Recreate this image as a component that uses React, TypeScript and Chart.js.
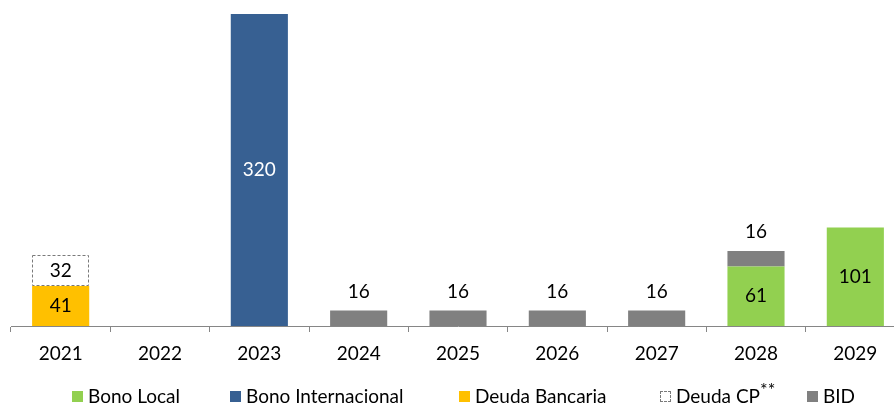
import React, { useEffect, useRef } from "react";
import { Chart, registerables } from "chart.js";

Chart.register(...registerables);

const categories = ["2021", "2022", "2023", "2024", "2025", "2026", "2027", "2028", "2029"];
const bonoLocal = [null, null, null, null, null, null, null, 61, 101];
const bonoInternacional = [null, null, 320, null, null, null, null, null, null];
const deudaBancaria = [41, null, null, null, null, null, null, null, null];
const deudaCP = [32, null, null, null, null, null, null, null, null];
const bid = [null, null, null, 16, 16, 16, 16, 16, null];
const seriesNames = ["Bono Local", "Bono Internacional", "Deuda Bancaria", "Deuda CP", "BID"];
const yMin = 0;
const yMax = 320;

const FONT = "Lato, 'Open Sans', sans-serif";
const GREEN = "#92D050";
const BLUE = "#376092";
const YELLOW = "#FFC000";
const GRAY = "#808080";
const AXIS = "#868686";

const dashedBoxes = {
  id: "dashedBoxes",
  afterDatasetsDraw(chart: any) {
    const ctx = chart.ctx;
    chart.data.datasets.forEach((ds: any, di: number) => {
      if (!ds.dashed) return;
      const meta = chart.getDatasetMeta(di);
      meta.data.forEach((el: any, i: number) => {
        if (ds.data[i] == null) return;
        const p = el.getProps(["x", "y", "base", "width"], true);
        const left = Math.round(p.x - p.width / 2) + 0.5;
        const right = Math.round(p.x + p.width / 2) - 0.5;
        const top = Math.round(p.y) + 0.5;
        const bottom = Math.round(p.base) - 0.5;
        ctx.save();
        ctx.strokeStyle = ds.dashColor;
        ctx.lineWidth = 1;
        ctx.setLineDash([3, 2]);
        ctx.strokeRect(left, top, right - left, bottom - top);
        ctx.restore();
      });
    });
  },
};

const valueLabels = {
  id: "valueLabels",
  afterDatasetsDraw(chart: any) {
    const ctx = chart.ctx;
    ctx.save();
    ctx.font = `19px ${FONT}`;
    ctx.textAlign = "center";
    ctx.textBaseline = "middle";
    chart.data.datasets.forEach((ds: any, di: number) => {
      const meta = chart.getDatasetMeta(di);
      meta.data.forEach((el: any, i: number) => {
        const v = ds.data[i];
        if (v == null) return;
        const p = el.getProps(["x", "y", "base"], true);
        const ty = ds.labelAbove ? p.y - 19 : (p.y + p.base) / 2;
        ctx.fillStyle = ds.labelColor;
        ctx.fillText(String(v), p.x, ty);
      });
    });
    ctx.restore();
  },
};

const legendItems = [
  { name: seriesNames[0], color: GREEN, left: 72, dashed: false, sup: "" },
  { name: seriesNames[1], color: BLUE, left: 230, dashed: false, sup: "" },
  { name: seriesNames[2], color: YELLOW, left: 459, dashed: false, sup: "" },
  { name: seriesNames[3], color: "#fff", left: 660, dashed: true, sup: "**" },
  { name: seriesNames[4], color: GRAY, left: 807, dashed: false, sup: "" },
];

export default function App() {
  const canvasRef = useRef<HTMLCanvasElement | null>(null);

  useEffect(() => {
    if (!canvasRef.current) return;
    const chart = new Chart(canvasRef.current, {
      type: "bar",
      data: {
        labels: categories,
        datasets: [
          { label: seriesNames[0], data: bonoLocal, backgroundColor: GREEN, labelColor: "#000" } as any,
          { label: seriesNames[1], data: bonoInternacional, backgroundColor: BLUE, labelColor: "#fff" } as any,
          { label: seriesNames[2], data: deudaBancaria, backgroundColor: YELLOW, labelColor: "#000" } as any,
          { label: seriesNames[3], data: deudaCP, backgroundColor: "rgba(255,255,255,0)", labelColor: "#000", dashed: true, dashColor: "#7a7a7a" } as any,
          { label: seriesNames[4], data: bid, backgroundColor: GRAY, labelColor: "#000", labelAbove: true } as any,
        ],
      },
      options: {
        responsive: false,
        animation: false,
        events: [],
        layout: { padding: { left: 11, right: 25, top: 14, bottom: 0 } },
        datasets: { bar: { barPercentage: 0.575, categoryPercentage: 1, borderWidth: 0 } },
        plugins: { legend: { display: false }, tooltip: { enabled: false } },
        scales: {
          x: {
            stacked: true,
            grid: { drawOnChartArea: false, drawTicks: true, tickLength: 6, color: AXIS, offset: true },
            border: { display: true, color: AXIS, width: 1 },
            ticks: { color: "#000", font: { family: FONT, size: 19 }, padding: 10, maxRotation: 0 },
            afterFit: (scale: any) => {
              scale.height = 83;
            },
          },
          y: {
            stacked: true,
            display: false,
            min: yMin,
            max: yMax,
          },
        },
      },
      plugins: [dashedBoxes, valueLabels],
    } as any);
    return () => chart.destroy();
  }, []);

  return (
    <div
      style={{
        position: "fixed",
        left: 0,
        top: 0,
        width: 894,
        height: 409,
        overflow: "hidden",
        background: "#fff",
      }}
    >
      <canvas ref={canvasRef} width={930} height={409} style={{ position: "absolute", left: 0, top: 0 }} />
      {legendItems.map((it) => (
        <div
          key={it.name}
          style={{
            position: "absolute",
            left: it.left,
            top: 385,
            height: 22,
            display: "flex",
            alignItems: "center",
            fontFamily: FONT,
            fontSize: 19,
            lineHeight: "22px",
            color: "#000",
            whiteSpace: "nowrap",
          }}
        >
          <span
            style={{
              display: "inline-block",
              width: it.dashed ? 9 : 11,
              height: it.dashed ? 9 : 11,
              background: it.color,
              border: it.dashed ? "1px dashed #7a7a7a" : "none",
              marginRight: 5,
              marginTop: 1,
            }}
          />
          <span>
            {it.name}
            {it.sup ? (
              <span style={{ fontSize: 18, position: "relative", top: -7 }}>{it.sup}</span>
            ) : null}
          </span>
        </div>
      ))}
    </div>
  );
}
